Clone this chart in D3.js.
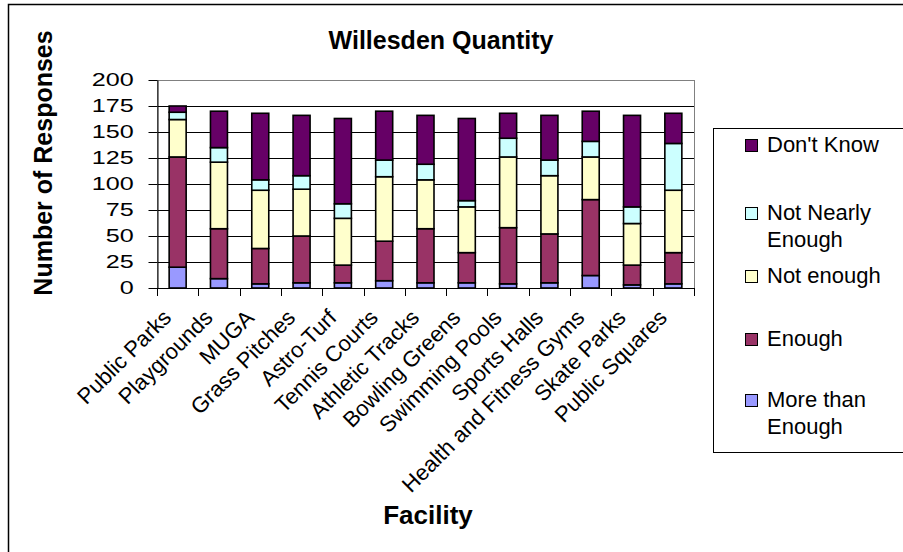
<!DOCTYPE html>
<html>
<head>
<meta charset="utf-8">
<script src="https://cdn.jsdelivr.net/npm/d3@7"></script>
<style>
  html, body { margin: 0; padding: 0; background: #fff; }
  svg { display: block; font-family: "Liberation Sans", Arial, sans-serif; }
</style>
</head>
<body>
<svg id="chart" width="903" height="552"></svg>
<script>
// Facilities surveyed
const categories = ["Public Parks", "Playgrounds", "MUGA", "Grass Pitches", "Astro-Turf",
  "Tennis Courts", "Athletic Tracks", "Bowling Greens", "Swimming Pools", "Sports Halls",
  "Health and Fitness Gyms", "Skate Parks", "Public Squares"];

// Responses per answer, stacked bottom to top
const moreThanEnough  = [20,   9,  4,  5,  5,  7,  5,  5,  4,  5, 12,  3,  4];
const enough          = [106, 48, 34, 45, 17, 38, 52, 29, 54, 47, 73, 19, 30];
const notEnough       = [36,  64, 56, 45, 45, 62, 47, 44, 68, 56, 41, 40, 60];
const notNearlyEnough = [7,   14, 10, 13, 14, 16, 15,  6, 18, 15, 15, 16, 45];
const dontKnow        = [6,   35, 64, 58, 82, 47, 47, 79, 24, 43, 29, 88, 29];

const seriesNames = ["More than Enough", "Enough", "Not enough", "Not Nearly Enough", "Don't Know"];
const seriesValues = [moreThanEnough, enough, notEnough, notNearlyEnough, dontKnow];
const seriesColors = ["#9999FF", "#993366", "#FFFFCC", "#CCFFFF", "#660066"];

const yTicks = [0, 25, 50, 75, 100, 125, 150, 175, 200];

const svg = d3.select("#chart");

// outer chart frame
svg.append("rect")
  .attr("x", 8.5).attr("y", 4.5).attr("width", 1000).attr("height", 1000)
  .attr("fill", "#fff").attr("stroke", "#000").attr("stroke-width", 1.5);

const plot = { left: 157, right: 694, top: 80, bottom: 288 };

const x = d3.scaleBand().domain(categories).range([plot.left, plot.right]);
const y = d3.scaleLinear().domain([0, 200]).range([plot.bottom, plot.top]);

// gridlines
svg.append("g")
  .selectAll("line")
  .data(yTicks.filter(t => t > 0 && t < 200))
  .join("line")
  .attr("x1", plot.left).attr("x2", plot.right)
  .attr("y1", d => Math.round(y(d)) + 0.5).attr("y2", d => Math.round(y(d)) + 0.5)
  .attr("stroke", "#000").attr("stroke-width", 1);

// plot area border
svg.append("rect")
  .attr("x", plot.left + 0.5).attr("y", plot.top + 0.5)
  .attr("width", plot.right - plot.left).attr("height", plot.bottom - plot.top)
  .attr("fill", "none").attr("stroke", "#808080").attr("stroke-width", 1);

// stacked data
const table = categories.map((c, i) => {
  const row = { category: c };
  seriesNames.forEach((s, k) => { row[s] = seriesValues[k][i]; });
  return row;
});
const stacked = d3.stack().keys(seriesNames)(table);

const barW = 17;
svg.append("g")
  .selectAll("g")
  .data(stacked)
  .join("g")
  .attr("fill", (d, k) => seriesColors[k])
  .selectAll("rect")
  .data(d => d)
  .join("rect")
  .attr("x", d => x(d.data.category) + x.bandwidth() / 2 - barW / 2)
  .attr("y", d => y(d[1]))
  .attr("width", barW)
  .attr("height", d => y(d[0]) - y(d[1]))
  .attr("stroke", "#000")
  .attr("stroke-width", 1.6);

// y axis
const yAxis = svg.append("g")
  .attr("transform", `translate(${plot.left + 0.5},0)`)
  .call(d3.axisLeft(y).tickValues(yTicks).tickSize(9).tickSizeOuter(0).tickPadding(8));
yAxis.select(".domain").attr("stroke", "#000");
yAxis.selectAll(".tick line").attr("stroke", "#000");
yAxis.selectAll(".tick text")
  .attr("font-size", 18)
  .attr("fill", "#000")
  .attr("font-family", "Liberation Sans, Arial, sans-serif")
  .attr("transform", "scale(1.4,1)");

// x axis: ticks between categories
const xAxisG = svg.append("g");
xAxisG.append("line")
  .attr("x1", plot.left).attr("x2", plot.right)
  .attr("y1", plot.bottom + 0.5).attr("y2", plot.bottom + 0.5)
  .attr("stroke", "#000");
const boundaries = categories.map(c => x(c)).concat([x(categories[categories.length - 1]) + x.bandwidth()]);
xAxisG.selectAll("line.tick")
  .data(boundaries)
  .join("line")
  .attr("class", "tick")
  .attr("x1", d => Math.round(d) + 0.5).attr("x2", d => Math.round(d) + 0.5)
  .attr("y1", plot.bottom).attr("y2", plot.bottom + 8)
  .attr("stroke", "#000");

xAxisG.selectAll("text")
  .data(categories)
  .join("text")
  .attr("transform", d => `translate(${x(d) + x.bandwidth() / 2 - 5},${plot.bottom + 31}) rotate(-45)`)
  .attr("text-anchor", "end")
  .attr("font-size", 22)
  .attr("fill", "#000")
  .text(d => d);

// titles
svg.append("text")
  .attr("x", 441).attr("y", 49)
  .attr("text-anchor", "middle")
  .attr("font-size", 25).attr("font-weight", "bold")
  .text("Willesden Quantity");

svg.append("text")
  .attr("transform", "translate(52,163) rotate(-90)")
  .attr("text-anchor", "middle")
  .attr("font-size", 25).attr("font-weight", "bold")
  .text("Number of Responses");

svg.append("text")
  .attr("x", 428).attr("y", 524)
  .attr("text-anchor", "middle")
  .attr("font-size", 26).attr("font-weight", "bold")
  .text("Facility");

// legend
const legend = svg.append("g");
legend.append("rect")
  .attr("x", 713.5).attr("y", 128.5).attr("width", 300).attr("height", 324)
  .attr("fill", "#fff").attr("stroke", "#000").attr("stroke-width", 1);

const legendItems = [
  { k: 4, lines: ["Don't Know"], y: 152 },
  { k: 3, lines: ["Not Nearly", "Enough"], y: 220 },
  { k: 2, lines: ["Not enough"], y: 283 },
  { k: 1, lines: ["Enough"], y: 346 },
  { k: 0, lines: ["More than", "Enough"], y: 407 }
];
const li = legend.selectAll("g.item").data(legendItems).join("g").attr("class", "item");
li.append("rect")
  .attr("x", 745.5).attr("y", d => d.y - 12.5)
  .attr("width", 12).attr("height", 12)
  .attr("fill", d => seriesColors[d.k])
  .attr("stroke", "#000").attr("stroke-width", 1);
li.append("text")
  .attr("x", 767).attr("y", d => d.y)
  .attr("font-size", 22).attr("fill", "#000")
  .selectAll("tspan")
  .data(d => d.lines)
  .join("tspan")
  .attr("x", 767)
  .attr("dy", (d, i) => i === 0 ? 0 : 27)
  .text(d => d);
</script>
</body>
</html>
